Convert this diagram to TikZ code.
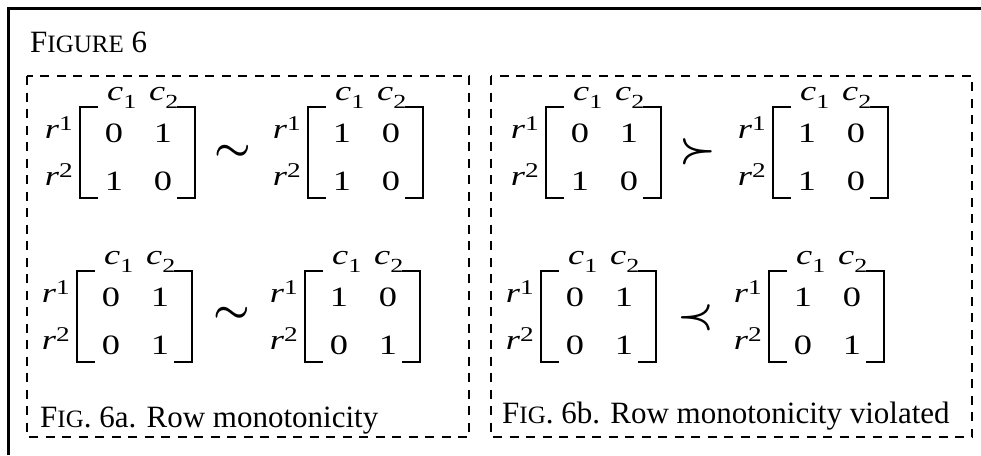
\documentclass[tikz,border=0pt]{standalone}
\usepackage{fontspec}
\setmainfont{Liberation Serif}

\tikzset{
  frame/.style={line width=3pt, line join=miter},
  panel/.style={line width=2.5pt, dash pattern=on 9pt off 7.5pt},
  brk/.style={line width=1.5pt, line join=miter},
  num/.style={inner sep=0pt, anchor=base, font=\fontsize{28}{28}\selectfont},
  lab/.style={inner sep=0pt, anchor=base west, font=\fontsize{28}{28}\selectfont\itshape},
  rel/.style={inner sep=0pt},
  captext/.style={inner sep=0pt, anchor=base west, font=\fontsize{31}{31}\selectfont},
}
% matrix glyphs are set a little wider than the font's own shapes
\newcommand\wide[1]{\scalebox{1.3}[1]{#1}}
\newcommand\supr[1]{\raisebox{8pt}{\upshape\fontsize{21}{21}\selectfont #1}}
\newcommand\subr[1]{\raisebox{-8pt}{\upshape\fontsize{20}{20}\selectfont #1}}
\newcommand\smc[1]{{\fontsize{25}{25}\selectfont #1}}
\newcommand\bigrel[1]{\scalebox{4.1}[3.9]{\boldmath$#1$}}

% one bracketed 2x2 matrix with row and column labels
% #1 name, #2 left bracket x, #3 bracket top y, #4-#7 entries
\newcommand\matblock[7]{%
  \begin{scope}[shift={(#2,#3)}]
    \node[lab, anchor=base east] (#1-r1) at (-7,31) {\wide{r\supr{1}}};
    \node[lab, anchor=base east] (#1-r2) at (-7,78) {\wide{r\supr{2}}};
    \node[lab] (#1-c1) at (27,-7) {\wide{c\subr{1}}};
    \node[lab] (#1-c2) at (69,-7) {\wide{c\subr{2}}};
    \node[num] (#1-a11) at (34,35) {\wide{#4}};
    \node[num] (#1-a12) at (83,35) {\wide{#5}};
    \node[num] (#1-a21) at (34,83) {\wide{#6}};
    \node[num] (#1-a22) at (83,83) {\wide{#7}};
    \draw[brk] (18,0) -- (0,0) -- (0,91) -- (18,91);
    \draw[brk] (97,0) -- (115,0) -- (115,91) -- (97,91);
  \end{scope}}

\begin{document}
\begin{tikzpicture}[x=1pt, y=-1pt]
  \useasboundingbox (0,0) rectangle (981,455);

  % outer frame (top and left edges)
  \draw[frame] (8,455) -- (8,8) -- (981,8);
  \node[captext] (title) at (30,52) {F\smc{IGURE} 6};

  % the two dashed panels
  \draw[panel] (27,76) rectangle (469,437);
  \draw[panel] (491,76) rectangle (972,437);

  % panel a
  \matblock{A}{80}{107}{0}{1}{1}{0}
  \matblock{B}{308}{107}{1}{0}{1}{0}
  \node[rel] (relA) at (233,153) {\bigrel{\sim}};
  \matblock{C}{77}{271}{0}{1}{0}{1}
  \matblock{D}{305}{271}{1}{0}{0}{1}
  \node[rel] (relC) at (232,315) {\bigrel{\sim}};
  \node[captext] (capa) at (40,427) {F\smc{IG}. 6a. Row monotonicity};

  % panel b
  \matblock{E}{546}{107}{0}{1}{1}{0}
  \matblock{F}{773}{107}{1}{0}{1}{0}
  \node[rel] (relE) at (698,152) {\bigrel{\succ}};
  \matblock{G}{541}{271}{0}{1}{0}{1}
  \matblock{H}{769}{271}{1}{0}{0}{1}
  \node[rel] (relG) at (696,318) {\bigrel{\prec}};
  \node[captext] (capb) at (502,423) {F\smc{IG}. 6b. Row monotonicity violated};
\end{tikzpicture}
\end{document}
